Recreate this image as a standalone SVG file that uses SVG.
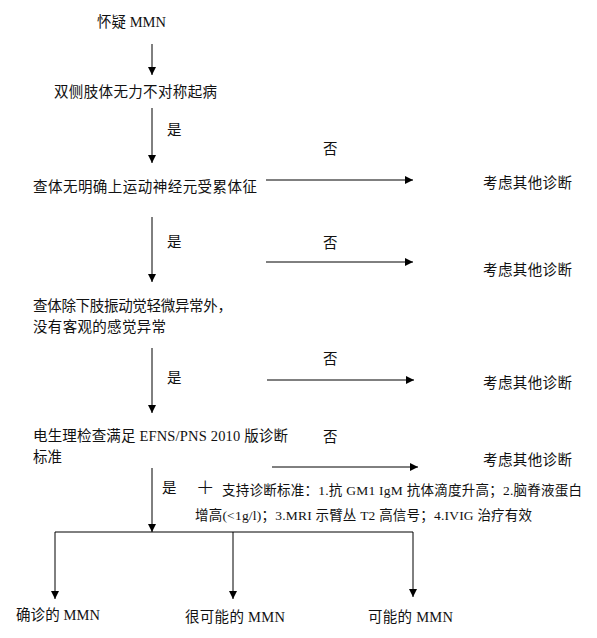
<svg xmlns="http://www.w3.org/2000/svg" width="597" height="638" viewBox="0 0 597 638">
<style>
.t{font-family:"Liberation Serif","Noto Sans CJK SC",serif;font-size:14.5px;fill:#111}
.s{font-family:"Liberation Serif","Noto Sans CJK SC",serif;font-size:13.5px;fill:#111}
.c line{stroke:#000;stroke-width:1}
.a{marker-end:url(#ah)}
</style>
<defs>
<marker id="ah" viewBox="0 0 10 10" refX="10" refY="5" markerWidth="9" markerHeight="8" markerUnits="userSpaceOnUse" orient="auto">
<path d="M0,0 L10,5 L0,10 z" fill="#000"/>
</marker>
</defs>
<rect width="597" height="638" fill="#fff"/>
<g id="connectors" class="c">
<line class="a" x1="152" y1="44" x2="152" y2="75"/>
<line class="a" x1="152" y1="108" x2="152" y2="163"/>
<line class="a" x1="152" y1="217" x2="152" y2="282"/>
<line class="a" x1="152" y1="348" x2="152" y2="413"/>
<line class="a" x1="152" y1="468" x2="152" y2="532"/>
<line class="a" x1="266" y1="180" x2="413" y2="180"/>
<line class="a" x1="266" y1="262" x2="413" y2="262"/>
<line class="a" x1="267" y1="380" x2="414" y2="380"/>
<line class="a" x1="272" y1="467" x2="418" y2="467"/>
<line x1="55" y1="532" x2="413" y2="532"/>
<line class="a" x1="55" y1="532" x2="55" y2="599"/>
<line class="a" x1="233" y1="532" x2="233" y2="599"/>
<line class="a" x1="413" y1="532" x2="413" y2="597"/>
</g>
<g id="n1"><text class="t" x="97" y="27" textLength="69" lengthAdjust="spacing">怀疑 MMN</text></g>
<g id="n2"><text class="t" x="54" y="97" textLength="163" lengthAdjust="spacing">双侧肢体无力不对称起病</text></g>
<g id="n3"><text class="t" x="33" y="192" textLength="224" lengthAdjust="spacing">查体无明确上运动神经元受累体征</text></g>
<g id="n4">
<text class="t" x="33" y="311" textLength="199" lengthAdjust="spacing">查体除下肢振动觉轻微异常外，</text>
<text class="t" x="33" y="332" textLength="133" lengthAdjust="spacing">没有客观的感觉异常</text>
</g>
<g id="n5">
<text class="t" x="33" y="441" textLength="255" lengthAdjust="spacing">电生理检查满足 EFNS/PNS 2010 版诊断</text>
<text class="t" x="33" y="462">标准</text>
</g>
<g id="o1"><text class="t" x="483" y="188" textLength="89" lengthAdjust="spacing">考虑其他诊断</text></g>
<g id="o2"><text class="t" x="483" y="275" textLength="89" lengthAdjust="spacing">考虑其他诊断</text></g>
<g id="o3"><text class="t" x="483" y="388" textLength="89" lengthAdjust="spacing">考虑其他诊断</text></g>
<g id="o4"><text class="t" x="483" y="465" textLength="89" lengthAdjust="spacing">考虑其他诊断</text></g>
<g id="labels">
<text class="t" x="167" y="135">是</text>
<text class="t" x="167" y="247">是</text>
<text class="t" x="167" y="383">是</text>
<text class="t" x="162" y="493">是</text>
<text class="t" x="323" y="154">否</text>
<text class="t" x="323" y="248">否</text>
<text class="t" x="323" y="364">否</text>
<text class="t" x="323" y="442">否</text>
</g>
<g id="support">
<text class="t" x="196" y="494" style="font-size:22px;font-family:'DejaVu Sans',sans-serif;font-weight:200">+</text>
<text class="s" x="222" y="495" textLength="360" lengthAdjust="spacing">支持诊断标准：1.抗 GM1 IgM  抗体滴度升高；2.脑脊液蛋白</text>
<text class="s" x="195" y="520" textLength="337" lengthAdjust="spacing">增高(&lt;1g/l)；3.MRI 示臂丛 T2 高信号；4.IVIG 治疗有效</text>
</g>
<g id="r1"><text class="t" x="16" y="620" textLength="84" lengthAdjust="spacing">确诊的 MMN</text></g>
<g id="r2"><text class="t" x="185" y="622" textLength="100" lengthAdjust="spacing">很可能的 MMN</text></g>
<g id="r3"><text class="t" x="368" y="622" textLength="85" lengthAdjust="spacing">可能的 MMN</text></g>
</svg>
